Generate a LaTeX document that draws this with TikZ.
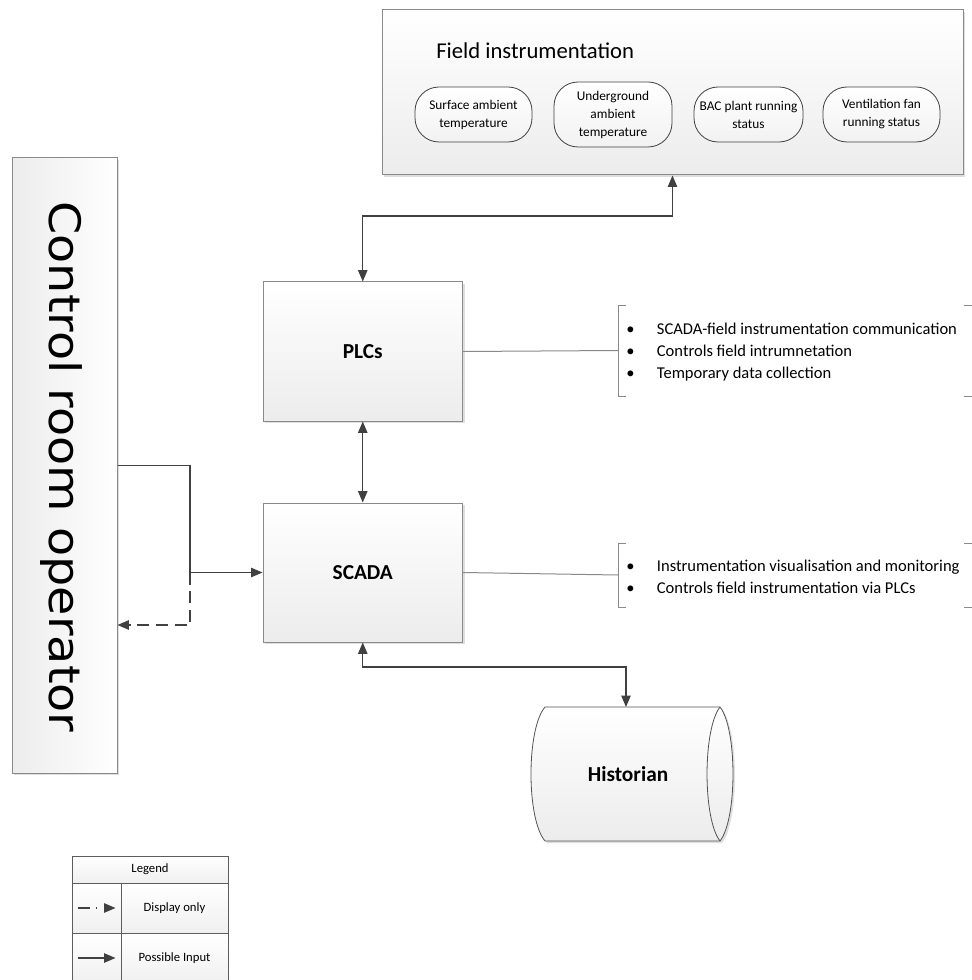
\documentclass[tikz,border=0pt]{standalone}
\usepackage{fontspec}
\setmainfont{Carlito}
\newfontfamily\opfont{DejaVu Sans}[FakeStretch=1.1]
\usetikzlibrary{arrows.meta,shadows}

\definecolor{edge}{HTML}{8A8A8A}
\definecolor{ink}{HTML}{404040}
\definecolor{paleg}{HTML}{ECECEC}
\definecolor{shadowc}{HTML}{C9C9C9}

% one drawing unit = 0.75pt
\newcommand{\pw}{0.75pt}
\newcommand{\bul}{\makebox[23pt][l]{\textbullet}}

\tikzset{
  panel/.style={draw=edge, line width=0.75pt, top color=white, bottom color=paleg,
    inner sep=0pt,
    drop shadow={shadow xshift=1.5pt, shadow yshift=-1.5pt, fill=shadowc, opacity=0.6}},
  sensor/.style={draw=ink, line width=0.6pt, rounded corners=18pt, top color=white,
    bottom color=paleg!70, align=center, inner xsep=2pt, inner ysep=0pt,
    font=\fontsize{10pt}{13.5pt}\selectfont},
  boldlabel/.style={font=\bfseries\fontsize{16pt}{19pt}\selectfont},
  link/.style={draw=ink, line width=0.9pt},
  arrowboth/.style={{Triangle[length=8.5pt,width=7pt]}-{Triangle[length=8.5pt,width=7pt]}},
  arrowend/.style={-{Triangle[length=8.5pt,width=7pt]}},
  lead/.style={draw=edge, line width=0.75pt},
  notes/.style={anchor=west, align=left, inner sep=0pt,
    font=\fontsize{12.4pt}{16.5pt}\selectfont},
  legcell/.style={draw=ink!85, line width=0.75pt, top color=white, bottom color=paleg!80,
    inner sep=0pt, font=\fontsize{9.5pt}{11pt}\selectfont},
}

\begin{document}
\begin{tikzpicture}[x=0.75pt, y=-0.75pt]
\useasboundingbox (0,0) rectangle (971,980);
\fill[white] (0,0) rectangle (971,980);

% ---- field instrumentation panel ----
\node[panel, minimum width=581*\pw, minimum height=165*\pw] (field) at (672.5,92.5) {};
\node[anchor=west, inner sep=0pt, font=\fontsize{17pt}{20pt}\selectfont] (ftitle) at (436,51) {Field instrumentation};
\node[sensor, minimum width=117*\pw, minimum height=55*\pw] (s1) at (473.5,114.5) {Surface ambient\\temperature};
\node[sensor, minimum width=118*\pw, minimum height=65*\pw] (s2) at (613,114.5) {Underground\\ambient\\temperature};
\node[sensor, minimum width=109*\pw, minimum height=55*\pw] (s3) at (748.5,114.5) {BAC plant running\\status};
\node[sensor, minimum width=117*\pw, minimum height=55*\pw] (s4) at (881.5,114.5) {Ventilation fan\\running status};

% ---- operator column ----
\node[draw=edge, line width=0.75pt, left color=paleg, right color=white, inner sep=0pt,
  minimum width=105*\pw, minimum height=615*\pw,
  drop shadow={shadow xshift=1.5pt, shadow yshift=-1.5pt, fill=shadowc, opacity=0.6}]
  (ctrl) at (64.5,465.5) {};
\node[rotate=-90, inner sep=0pt, font=\opfont\fontsize{32.5pt}{36pt}\selectfont] (ctrltxt) at (61,467) {Control room operator};

% ---- PLC and SCADA ----
\node[panel, boldlabel, minimum width=199.5*\pw, minimum height=139*\pw] (plc) at (362.75,351.5) {PLCs};
\node[panel, boldlabel, minimum width=199.5*\pw, minimum height=139*\pw] (scada) at (362.75,572.5) {SCADA};

% ---- historian store ----
\fill[shadowc, opacity=0.6] (547,709) -- (722,709) .. controls (739.3,731) and (739.3,821) .. (722,843)
  -- (547,843) .. controls (528.3,821) and (528.3,731) .. cycle;
\path[draw=ink!90, line width=0.6pt, top color=white, bottom color=paleg]
  (545,707) -- (720,707) .. controls (737.3,729) and (737.3,819) .. (720,841)
  -- (545,841) .. controls (526.3,819) and (526.3,729) .. cycle;
\draw[draw=ink!90, line width=0.6pt] (720,707) .. controls (702.7,729) and (702.7,819) .. (720,841);
\node[boldlabel, inner sep=0pt] (hist) at (628,774) {Historian};
\coordinate (histin) at (626,707);

% ---- connectors ----
\coordinate (fb) at (362.75,216);
\draw[link, arrowboth] (plc.north) -- (fb) -| (field.south);
\draw[link, arrowboth] (plc.south) -- (scada.north);
\coordinate (hb) at (362.75,667);
\draw[link, arrowboth] (scada.south) -- (hb) -| (histin);

\coordinate (j1) at (190,465.5);
\coordinate (j2) at (190,572.5);
\coordinate (j3) at (190,625);
\draw[link, arrowend] (ctrl.east) -- (j1) -- (j2) -- (scada.west);
\draw[link, arrowend, dash pattern=on 9pt off 5pt] (j2) -- (j3) -- (ctrl.east |- j3);

% ---- annotation brackets ----
\coordinate (pb) at (618,350.5);
\draw[lead] (plc.east) -- (pb);
\draw[lead] (626,305) -- (618,305) -- (618,396) -- (626,396);
\draw[lead] (964,305) -- (972,305) -- (972,396) -- (964,396);
\node[notes] (plcnotes) at (626,352) {\bul SCADA-field instrumentation communication\\
  \bul Controls field intrumnetation\\
  \bul Temporary data collection};

\coordinate (sb) at (618,575);
\draw[lead] (scada.east) -- (sb);
\draw[lead] (626,543) -- (618,543) -- (618,607) -- (626,607);
\draw[lead] (964,543) -- (972,543) -- (972,607) -- (964,607);
\node[notes] (scadanotes) at (626,576.5) {\bul Instrumentation visualisation and monitoring\\
  \bul Controls field instrumentation via PLCs};

% ---- legend ----
\node[legcell, minimum width=156*\pw, minimum height=27*\pw] (lghead) at (150,869.5) {Legend};
\node[legcell, minimum width=49*\pw, minimum height=50*\pw] (lgs1) at (96.5,908) {};
\node[legcell, minimum width=107*\pw, minimum height=50*\pw] (lgt1) at (174.5,908) {Display only};
\node[legcell, minimum width=49*\pw, minimum height=50*\pw] (lgs2) at (96.5,958) {};
\node[legcell, minimum width=107*\pw, minimum height=50*\pw] (lgt2) at (174.5,958) {Possible Input};
\draw[link, arrowend, dash pattern=on 9pt off 4.5pt on 1.2pt off 20pt]
  ([xshift=4.5pt]lgs1.west) -- ([xshift=-4.5pt]lgs1.east);
\draw[link, arrowend] ([xshift=4.5pt]lgs2.west) -- ([xshift=-4.5pt]lgs2.east);
\end{tikzpicture}
\end{document}
